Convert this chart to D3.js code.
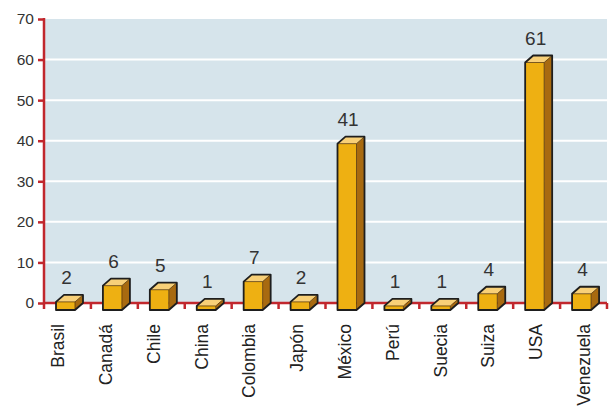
<!DOCTYPE html>
<html>
<head>
<meta charset="utf-8">
<script src="https://cdnjs.cloudflare.com/ajax/libs/d3/7.8.5/d3.min.js"></script>
<style>
  html, body { margin: 0; padding: 0; background: #fff; }
  svg { display: block; font-family: Arial, "Liberation Sans", sans-serif; }
</style>
</head>
<body>
<svg id="chart" width="613" height="417"></svg>
<script>
// data
var categories = ["Brasil", "Canadá", "Chile", "China", "Colombia", "Japón", "México", "Perú", "Suecia", "Suiza", "USA", "Venezuela"];
var values = [2, 6, 5, 1, 7, 2, 41, 1, 1, 4, 61, 4];
var yTicks = [0, 10, 20, 30, 40, 50, 60, 70];

var width = 613, height = 417;
var margin = {top: 19, right: 6, bottom: 114, left: 44};
var depthX = 8, depthY = 7;

var svg = d3.select("#chart");

var x = d3.scaleBand().domain(categories).range([margin.left, width - margin.right]).paddingInner(0);
var y = d3.scaleLinear().domain([0, 70]).range([height - margin.bottom, margin.top]);
// category labels sit on a slightly wider pitch than the bands
var xLabel = d3.scalePoint().domain(categories).range([58, 584]);

var axisColor = "#c1272d";

// plot background
svg.append("rect")
	.attr("x", x.range()[0])
	.attr("y", y(70))
	.attr("width", x.range()[1] - x.range()[0])
	.attr("height", y(0) - y(70))
	.attr("fill", "#d6e4eb");

// gridlines
svg.append("g").selectAll("line")
	.data(yTicks.filter(function(d) { return d > 0 && d < 70; }))
	.enter().append("line")
	.attr("x1", x.range()[0])
	.attr("x2", x.range()[1])
	.attr("y1", function(d) { return y(d); })
	.attr("y2", function(d) { return y(d); })
	.attr("stroke", "#fff")
	.attr("stroke-width", 2);

// y axis
var yAxis = svg.append("g")
	.attr("transform", "translate(" + x.range()[0] + ",0)")
	.call(d3.axisLeft(y).tickValues(yTicks).tickSize(6).tickPadding(4).tickSizeOuter(0));
yAxis.select(".domain").remove();
yAxis.selectAll(".tick line").attr("stroke", axisColor).attr("stroke-width", 2.5);
yAxis.selectAll(".tick text")
	.attr("fill", "#333")
	.style("font-size", "15.5px")
	.style("font-family", "Arial, 'Liberation Sans', sans-serif");
yAxis.append("line")
	.attr("x1", 0).attr("x2", 0)
	.attr("y1", y(70) - 1).attr("y2", y(0) + 6)
	.attr("stroke", axisColor).attr("stroke-width", 2.5);

// x axis
var xAxis = svg.append("g")
	.attr("transform", "translate(0," + y(0) + ")");
xAxis.append("line")
	.attr("x1", x.range()[0]).attr("x2", x.range()[1])
	.attr("stroke", axisColor).attr("stroke-width", 2.5);
xAxis.selectAll(".xtick")
	.data(categories.slice(1).concat(["_end"]))
	.enter().append("line")
	.attr("class", "xtick")
	.attr("x1", function(d) { return d === "_end" ? x.range()[1] : x(d); })
	.attr("x2", function(d) { return d === "_end" ? x.range()[1] : x(d); })
	.attr("y1", 0).attr("y2", 6)
	.attr("stroke", axisColor).attr("stroke-width", 2.5);

// category labels
svg.append("g").selectAll("text")
	.data(categories)
	.enter().append("text")
	.attr("transform", function(d) { return "translate(" + xLabel(d) + "," + (y(0) + 21) + ") rotate(-90)"; })
	.attr("text-anchor", "end")
	.attr("dy", "0.35em")
	.attr("fill", "#222")
	.style("font-size", "17.5px")
	.text(function(d) { return d; });

// 3D bars
var frontW = 19;
var bars = svg.append("g").selectAll("g.bar")
	.data(categories.map(function(c, i) { return {cat: c, val: values[i]}; }))
	.enter().append("g")
	.attr("class", "bar");

function fx(d) { return x(d.cat) + 12; }
function yt(d) { return y(d.val); }

// front face
bars.append("rect")
	.attr("x", fx)
	.attr("y", function(d) { return yt(d) + depthY; })
	.attr("width", frontW)
	.attr("height", function(d) { return y(0) - yt(d); })
	.attr("fill", "#eeb012");

// top face
bars.append("path")
	.attr("d", function(d) {
		var a = fx(d), t = yt(d);
		return "M" + a + "," + (t + depthY) + "L" + (a + depthX) + "," + t + "L" + (a + frontW + depthX) + "," + t + "L" + (a + frontW) + "," + (t + depthY) + "Z";
	})
	.attr("fill", "#f8d078");

// side face
bars.append("path")
	.attr("d", function(d) {
		var a = fx(d) + frontW, t = yt(d), b = y(0);
		return "M" + a + "," + (t + depthY) + "L" + (a + depthX) + "," + t + "L" + (a + depthX) + "," + b + "L" + a + "," + (b + depthY) + "Z";
	})
	.attr("fill", "#a86a10");

// inner edges
bars.append("path")
	.attr("d", function(d) {
		var a = fx(d), t = yt(d), b = y(0);
		return "M" + a + "," + (t + depthY) + "L" + (a + frontW) + "," + (t + depthY) + "L" + (a + frontW + depthX) + "," + t +
			"M" + (a + frontW) + "," + (t + depthY) + "L" + (a + frontW) + "," + (b + depthY);
	})
	.attr("fill", "none")
	.attr("stroke", "#5a3a08")
	.attr("stroke-width", 0.8);

// outline
bars.append("path")
	.attr("d", function(d) {
		var a = fx(d), t = yt(d), b = y(0);
		return "M" + a + "," + (b + depthY) + "L" + a + "," + (t + depthY) + "L" + (a + depthX) + "," + t +
			"L" + (a + frontW + depthX) + "," + t + "L" + (a + frontW + depthX) + "," + b +
			"L" + (a + frontW) + "," + (b + depthY) + "Z";
	})
	.attr("fill", "none")
	.attr("stroke", "#1e1e1e")
	.attr("stroke-width", 1.8)
	.attr("stroke-linejoin", "round");

// value labels
bars.append("text")
	.attr("x", function(d) { return fx(d) + frontW / 2 + 1; })
	.attr("y", function(d) { return yt(d) - 11; })
	.attr("text-anchor", "middle")
	.attr("fill", "#333")
	.style("font-size", "19px")
	.text(function(d) { return d.val; });
</script>
</body>
</html>
